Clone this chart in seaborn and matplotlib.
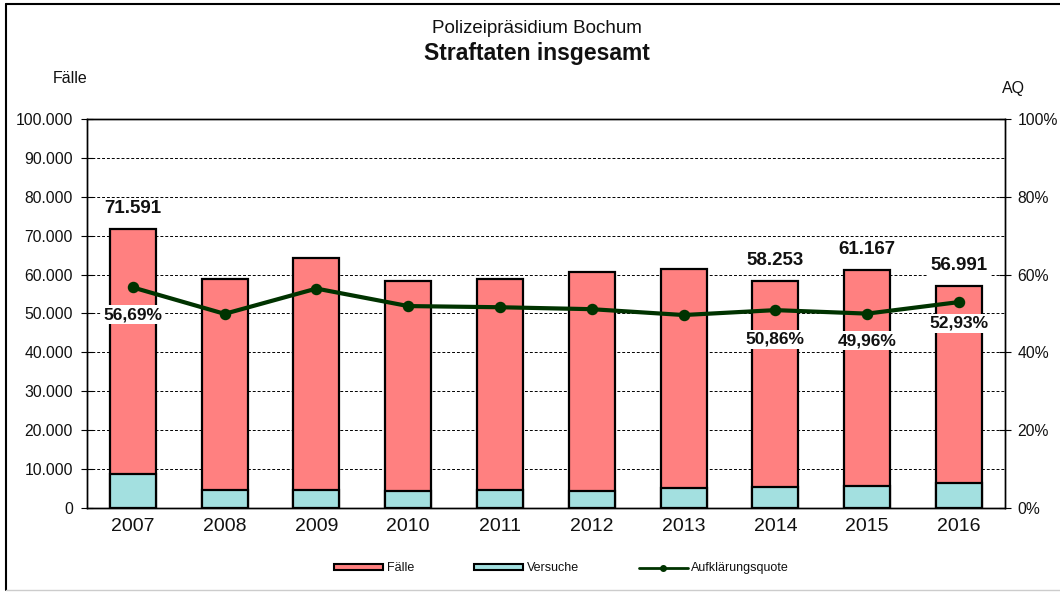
import numpy as np
import pandas as pd
import matplotlib
matplotlib.use("Agg")
import matplotlib.pyplot as plt
import matplotlib.ticker as mticker
from matplotlib.patches import Patch
from matplotlib.lines import Line2D
import seaborn as sns

# data
years = ["2007", "2008", "2009", "2010", "2011", "2012", "2013", "2014", "2015", "2016"]
faelle = [71591, 58790, 64190, 58430, 58790, 60750, 61360, 58253, 61167, 56991]
versuche = [8740, 4700, 4700, 4450, 4700, 4450, 5040, 5400, 5650, 6430]
aq = [56.69, 49.9, 56.4, 51.9, 51.6, 51.1, 49.6, 50.86, 49.96, 52.93]

# labelled points only
faelle_labels = {"2007": "71.591", "2014": "58.253", "2015": "61.167", "2016": "56.991"}
aq_labels = {"2007": "56,69%", "2014": "50,86%", "2015": "49,96%", "2016": "52,93%"}

col_faelle = "#FF8080"
col_versuche = "#A3E0E0"
col_aq = "#003300"

sns.set_style("white")
plt.rcParams["font.family"] = ["Liberation Sans", "DejaVu Sans"]
plt.rcParams["text.color"] = "#111111"
plt.rcParams["xtick.color"] = "black"
plt.rcParams["ytick.color"] = "black"
plt.rcParams["xtick.labelcolor"] = "#111111"
plt.rcParams["ytick.labelcolor"] = "#111111"

df = pd.DataFrame({"Jahr": years, "Fälle": faelle, "Versuche": versuche, "AQ": aq})

fig = plt.figure(figsize=(10.6, 5.92), dpi=100)
ax = fig.add_axes([0.082, 0.142, 0.866, 0.657])

sns.barplot(data=df, x="Jahr", y="Fälle", color=col_faelle, width=0.5,
            edgecolor="black", linewidth=1.6, saturation=1, ax=ax, zorder=2)
sns.barplot(data=df, x="Jahr", y="Versuche", color=col_versuche, width=0.5,
            edgecolor="black", linewidth=1.6, saturation=1, ax=ax, zorder=3)

ax.set_ylim(0, 100000)
ax.set_xlim(-0.5, len(years) - 0.5)
ax.yaxis.set_major_locator(mticker.MultipleLocator(10000))
ax.yaxis.set_major_formatter(mticker.FuncFormatter(lambda v, p: f"{int(v):,}".replace(",", ".")))
ax.grid(axis="y", color="black", linestyle=(0, (3, 2)), linewidth=0.7)
ax.set_axisbelow(True)
ax.set_xlabel("")
ax.set_ylabel("")
for s in ["left", "bottom", "right", "top"]:
    ax.spines[s].set_color("black")
    ax.spines[s].set_linewidth(1.0)
ax.tick_params(axis="y", direction="inout", length=8, labelsize=11.3, pad=6)
ax.tick_params(axis="x", which="major", length=0, labelsize=14, pad=7)
ax.xaxis.set_minor_locator(mticker.FixedLocator(np.arange(-0.5, len(years), 1.0)))
ax.tick_params(axis="x", which="minor", direction="inout", length=9)

# value labels above some bars
for i, y in enumerate(years):
    if y in faelle_labels:
        ax.text(i, faelle[i] + 3200, faelle_labels[y], ha="center", va="bottom",
                fontsize=13.5, fontweight="bold", zorder=6,
                bbox=dict(facecolor="white", edgecolor="none", pad=1.5))

ax2 = ax.twinx()
sns.pointplot(data=df, x="Jahr", y="AQ", color=col_aq, markers="o", markersize=6,
              linewidth=3, ax=ax2, zorder=5)
ax2.set_ylim(0, 100)
ax2.set_xlim(-0.5, len(years) - 0.5)
ax2.yaxis.set_major_locator(mticker.MultipleLocator(20))
ax2.yaxis.set_major_formatter(mticker.FuncFormatter(lambda v, p: f"{int(v)}%"))
ax2.tick_params(axis="y", direction="inout", length=8, labelsize=11.3, pad=5)
ax2.set_ylabel("")
ax2.set_xlabel("")
for s in ["left", "bottom", "right", "top"]:
    ax2.spines[s].set_color("black")
    ax2.spines[s].set_linewidth(1.0)

aq_offsets = {"2007": -7.0, "2014": -7.5, "2015": -7.0, "2016": -5.5}
for i, y in enumerate(years):
    if y in aq_labels:
        ax2.text(i, aq[i] + aq_offsets[y], aq_labels[y], ha="center", va="center",
                 fontsize=12.5, fontweight="bold", zorder=7,
                 bbox=dict(facecolor="white", edgecolor="none", pad=1.5))

fig.text(0.507, 0.952, "Polizeipräsidium Bochum", ha="center", va="center", fontsize=13.5)
fig.text(0.507, 0.909, "Straftaten insgesamt", ha="center", va="center", fontsize=16.5, fontweight="bold")
fig.text(0.066, 0.868, "Fälle", ha="center", va="center", fontsize=11.5)
fig.text(0.956, 0.851, "AQ", ha="center", va="center", fontsize=11.5)

handles = [
    Patch(facecolor=col_faelle, edgecolor="black", linewidth=1.5, label="Fälle"),
    Patch(facecolor=col_versuche, edgecolor="black", linewidth=1.5, label="Versuche"),
    Line2D([0], [0], color=col_aq, linewidth=2, marker="o", markersize=4, label="Aufklärungsquote"),
]
fig.legend(handles=handles, loc="center", bbox_to_anchor=(0.53, 0.04), ncol=3, frameon=False,
           fontsize=9, handlelength=3.9, handleheight=0.35, columnspacing=4.8, handletextpad=0.3)

# frame of the cropped screenshot: top and left black, bottom light grey
fig.add_artist(Line2D([0.006, 1.0], [0.993, 0.993], transform=fig.transFigure, color="black", linewidth=1.5))
fig.add_artist(Line2D([0.006, 0.006], [0.003, 0.993], transform=fig.transFigure, color="black", linewidth=1.5))
fig.add_artist(Line2D([0.006, 1.0], [0.003, 0.003], transform=fig.transFigure, color="#cccccc", linewidth=1.0))

fig.savefig("out.png", dpi=100)
